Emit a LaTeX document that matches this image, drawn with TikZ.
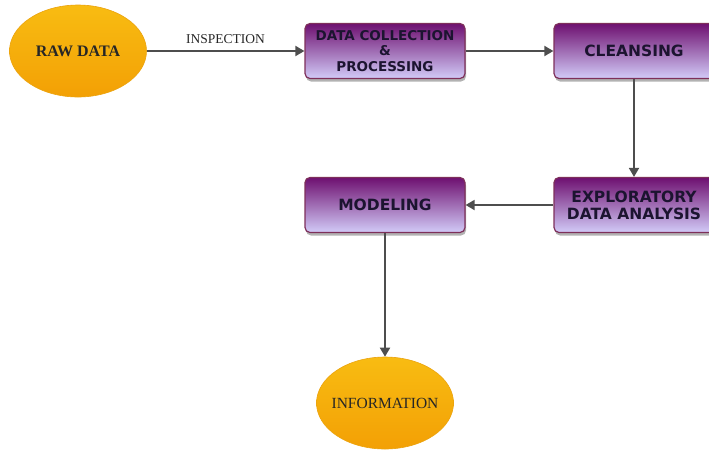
\documentclass[tikz,border=0pt]{standalone}
\usepackage{fontspec}
\setmainfont{Liberation Serif}
\newfontfamily\boxfont{DejaVu Sans}
\usetikzlibrary{arrows.meta,shadows,shapes.geometric}

\definecolor{boxtop}{HTML}{6E1070}
\definecolor{boxbot}{HTML}{D2CBF8}
\definecolor{boxline}{HTML}{7E2F5A}
\definecolor{ovaltop}{HTML}{F8BC12}
\definecolor{ovalbot}{HTML}{F3A005}
\definecolor{ovalline}{HTML}{EBA30E}
\definecolor{arrowgray}{HTML}{4E4E4E}
\definecolor{textdark}{HTML}{1C1430}

\tikzset{
  stage/.style={draw=boxline, line width=1.2pt, rounded corners=5pt,
    top color=boxtop, bottom color=boxbot, minimum width=160pt, minimum height=55pt,
    align=center, text=textdark, font=\boxfont\bfseries\fontsize{15.5}{17}\selectfont,
    drop shadow={shadow xshift=1pt, shadow yshift=-3pt, fill=black!30, opacity=1}},
  oval/.style={ellipse, draw=ovalline, line width=0.6pt, top color=ovaltop, bottom color=ovalbot,
    minimum width=137pt, minimum height=92pt, inner sep=0pt, text=black!85},
  flow/.style={draw=arrowgray, line width=1.8pt, -{Triangle[length=9pt,width=10pt]}}
}

\begin{document}
\begin{tikzpicture}[x=1pt, y=-1pt]
        \useasboundingbox (0,0) rectangle (709,451);

        % Raw data
        \node[oval, font=\bfseries\fontsize{16}{18}\selectfont] (raw) at (78,51) {RAW DATA};

        % Top row
        \node[stage, font=\boxfont\bfseries\fontsize{13.5}{15.5}\selectfont] (collect) at (385,51)
          {DATA COLLECTION\\\&\\PROCESSING};
        \node[stage] (cleanse) at (634,51) {CLEANSING};

        % Second row
        \node[stage, inner xsep=1pt] (explore) at (634,205) {EXPLORATORY\\DATA ANALYSIS};
        \node[stage] (model) at (385,205) {MODELING};

        % Information
        \node[oval, inner xsep=-8pt, font=\fontsize{15.5}{17}\selectfont] (info) at (385,403) {INFORMATION};

        % Connections
        \draw[flow] (raw) -- (collect) node[midway, above=3pt, text=black!85,
          font=\fontsize{13.5}{15}\selectfont] (inspect) {INSPECTION};
        \draw[flow] (collect) -- (cleanse);
        \draw[flow] (cleanse) -- (explore);
        \draw[flow] (explore) -- (model);
        \draw[flow] (model) -- (info);

     \end{tikzpicture}
\end{document}
